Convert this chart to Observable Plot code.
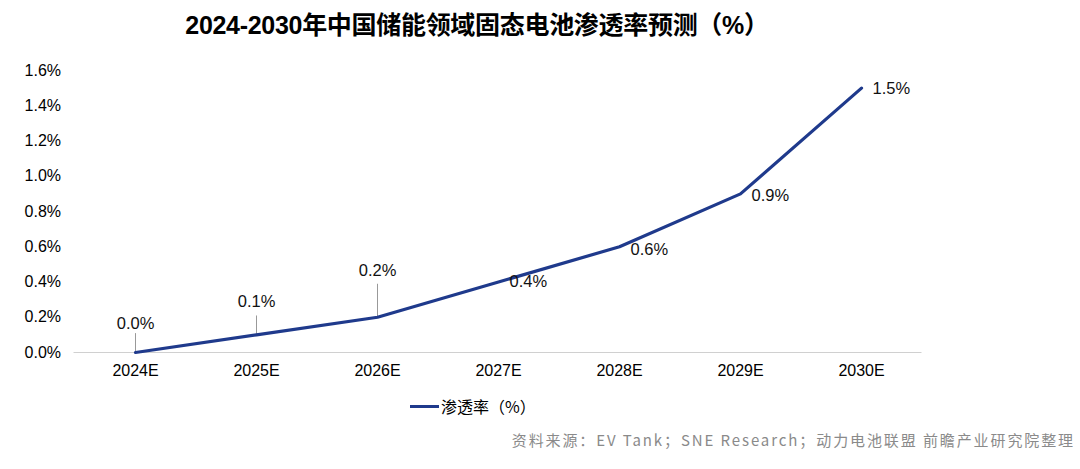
<!DOCTYPE html>
<html><head><meta charset="utf-8">
<script src="https://cdn.jsdelivr.net/npm/d3@7"></script>
<script src="https://cdn.jsdelivr.net/npm/@observablehq/plot@0.6"></script>
<style>
body{margin:0;background:#fff;width:1080px;height:469px;position:relative;overflow:hidden;font-family:"Liberation Sans","Noto Sans CJK SC",sans-serif;}
#title{position:absolute;left:0;width:954px;top:5px;text-align:center;font-size:25px;font-weight:bold;color:#000;font-family:"Liberation Sans","Noto Sans CJK SC",sans-serif;letter-spacing:-0.3px}
#chart{position:absolute;left:0;top:40px}
#legend{position:absolute;left:410px;top:394px;font-size:16px;color:#000;display:flex;align-items:center;font-family:"Noto Sans CJK SC",sans-serif}
#legend span.sw{display:inline-block;width:29px;height:3px;background:#1f3a8c;margin-right:2px}
#source{position:absolute;right:5px;top:429px;font-size:15px;color:#8a8a8a;letter-spacing:1.9px;font-family:"Noto Sans CJK SC",sans-serif}
</style></head>
<body>
<div id="title">2024-2030年中国储能领域固态电池渗透率预测（%）</div>
<div id="chart"></div>
<div id="legend"><span class="sw"></span>渗透率（%）</div>
<div id="source">资料来源：EV Tank；SNE Research；动力电池联盟 前瞻产业研究院整理</div>
<script>
const years = ["2024E","2025E","2026E","2027E","2028E","2029E","2030E"];
const values = [0.0, 0.1, 0.2, 0.4, 0.6, 0.9, 1.5];
const labels = ["0.0%","0.1%","0.2%","0.4%","0.6%","0.9%","1.5%"];
const yTicks = [0,0.2,0.4,0.6,0.8,1.0,1.2,1.4,1.6];

const data = years.map((y,i)=>({year:y, v:values[i], label:labels[i], i}));
const above = data.filter(d=>d.i<3);
const right = data.filter(d=>d.i>=3);
const leadLen = [0.11, 0.11, 0.19];
const labDy = [-29, -33, -47];
const rightDy = [0, 3, 2, 1];

const chart = Plot.plot({
  width:1080, height:350,
  marginLeft:73.5, marginRight:158.5, marginTop:30, marginBottom:38,
  style:{fontFamily:"'Liberation Sans', Arial, sans-serif", fontSize:"16px", color:"#000", background:"transparent"},
  x:{type:"point", domain:years, padding:0.5, label:null, tickSize:0, tickPadding:12},
  y:{domain:[0,1.6], ticks:yTicks, tickFormat:d=>d.toFixed(1)+"%", label:null, tickSize:0, tickPadding:13},
  marks:[
    Plot.ruleY([0], {stroke:"#d0d0d0", strokeWidth:1}),
    Plot.link(above, {x1:"year", x2:"year", y1:"v", y2:d=>d.v+leadLen[d.i], stroke:"#999", strokeWidth:1}),
    Plot.line(data, {x:"year", y:"v", stroke:"#1f3a8c", strokeWidth:3.2, strokeLinejoin:"round"}),
    ...above.map(d=>Plot.text([d], {x:"year", y:"v", text:"label", dy:labDy[d.i], fontSize:16.5, fill:"#111", textAnchor:"middle"})),
    ...right.map(d=>Plot.text([d], {x:"year", y:"v", text:"label", dx:11, dy:rightDy[d.i-3], fontSize:16.5, fill:"#111", textAnchor:"start"}))
  ]
});
document.getElementById("chart").appendChild(chart);
</script>
</body></html>
